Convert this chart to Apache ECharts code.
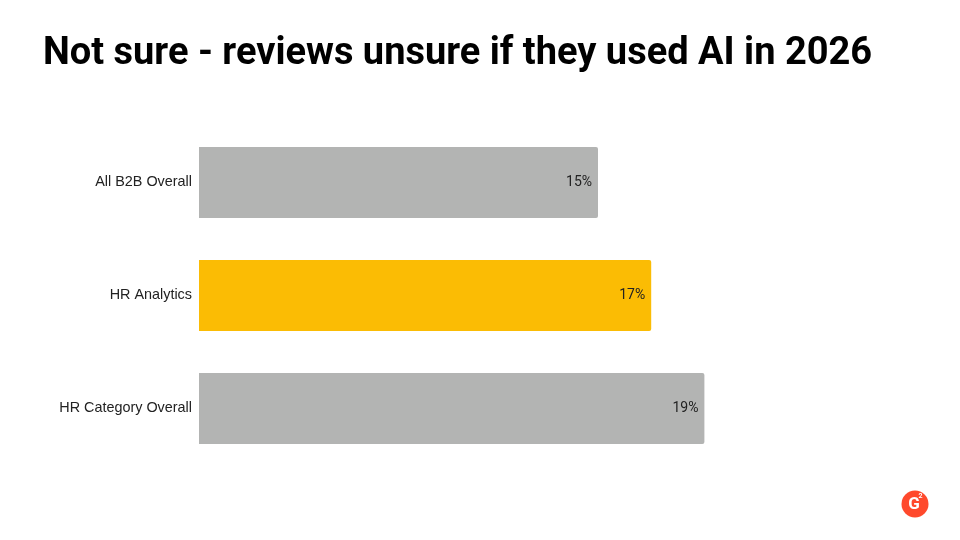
<!DOCTYPE html>
<html><head><meta charset="utf-8">
<script src="https://cdn.jsdelivr.net/npm/echarts@6/dist/echarts.min.js"></script>
<style>html,body{margin:0;padding:0;background:#fff}#c{width:960px;height:540px}</style>
</head><body><div id="c"></div>
<script>
const categories = ['All B2B Overall', 'HR Analytics', 'HR Category Overall'];
const values = [15, 17, 19];
const colors = ['#b3b4b3', '#fbbc04', '#b3b4b3'];

const chart = echarts.init(document.getElementById('c'));
chart.setOption({
  backgroundColor: '#fff',
  animation: false,
  title: {
    text: 'Not sure - reviews unsure if they used AI in 2026',
    left: 38, top: 30,
    textStyle: {fontFamily: 'Roboto', fontWeight: 700, fontSize: 38, color: '#000'}
  },
  grid: {left: 199, right: 96, top: 126, bottom: 75, containLabel: false},
  xAxis: {type: 'value', min: 0, max: 25, show: false},
  yAxis: {
    type: 'category', data: categories, inverse: true,
    axisLine: {show: false}, axisTick: {show: false},
    axisLabel: {fontFamily: 'Liberation Sans', fontSize: 14.4, color: '#222', margin: 7}
  },
  series: [{
    type: 'bar',
    data: values.map((v, i) => ({value: v, itemStyle: {color: colors[i]}})),
    barCategoryGap: '37%',
    itemStyle: {borderRadius: [0, 2, 2, 0]},
    label: {
      show: true, position: 'insideRight', distance: 6,
      formatter: p => p.value + '%',
      fontFamily: 'Roboto', fontSize: 14, color: '#222'
    }
  }],
  graphic: [
    {type: 'circle', shape: {cx: 915, cy: 504, r: 13.5}, style: {fill: '#ff492c'}},
    {type: 'text', x: 914, y: 505, style: {text: 'G', fill: '#fff', font: 'bold 17px Roboto', textAlign: 'center', textVerticalAlign: 'middle'}},
    {type: 'text', x: 920.5, y: 496, style: {text: '2', fill: '#fff', font: 'bold 7px Roboto', textAlign: 'center', textVerticalAlign: 'middle'}}
  ]
});
</script></body></html>
